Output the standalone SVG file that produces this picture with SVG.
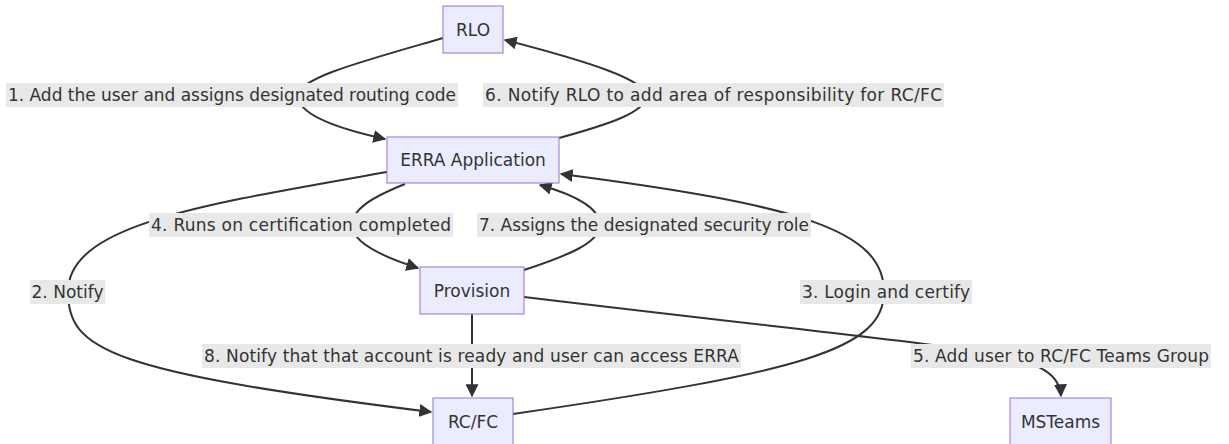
<svg xmlns="http://www.w3.org/2000/svg" width="1229" height="444" viewBox="0 0 1229 444">
  <style>
    .node rect { fill: #ECECFF; stroke: #9370DB; stroke-width: 1; }
    .node text { font-family: "DejaVu Sans", "Liberation Sans", sans-serif; font-size: 17px; fill: #333333; text-anchor: middle; dominant-baseline: central; }
    .edge { fill: none; stroke: #333333; stroke-width: 2; marker-end: url(#arrow); }
    .lbl rect { fill: #e8e8e8; }
    .lbl text { font-family: "DejaVu Sans", "Liberation Sans", sans-serif; font-size: 17px; fill: #333333; text-anchor: middle; dominant-baseline: central; }
  </style>
  <defs>
    <marker id="arrow" viewBox="0 0 10 10" refX="9" refY="5" markerUnits="userSpaceOnUse" markerWidth="13" markerHeight="13" orient="auto">
      <path d="M0,0 L10,5 L0,10 z" fill="#333333"/>
    </marker>
  </defs>

  <rect width="1229" height="444" fill="#ffffff"/>

  <!-- connectors -->
  <g id="connectors">
    <!-- RLO -> ERRA -->
    <path class="edge" d="M443,38 C360,62 298,78 298,96 C298,114 335,128 385,139"/>
    <!-- ERRA -> RLO -->
    <path class="edge" d="M559,138 C610,124 646,112 646,96 C646,80 590,62 505,40"/>
    <!-- ERRA -> RC/FC -->
    <path class="edge" d="M387,172 C200,205 68,225 68,292 C68,350 110,372 431,412"/>
    <!-- RC/FC -> ERRA -->
    <path class="edge" d="M513,414 C800,372 884,350 884,292 C884,230 800,205 561,174"/>
    <!-- ERRA -> Provision -->
    <path class="edge" d="M405,184 C370,198 352,210 352,225 C352,242 380,256 418,268"/>
    <!-- Provision -> ERRA -->
    <path class="edge" d="M524,270 C570,255 600,242 600,225 C600,208 575,195 540,185"/>
    <!-- Provision -> RC/FC -->
    <path class="edge" d="M472,314 L472,396"/>
    <!-- Provision -> MSTeams -->
    <path class="edge" d="M524,297 C800,330 950,345 1000,355 C1040,363 1060,375 1061,396"/>

    <!-- edge labels -->
    <g class="lbl">
      <rect x="6" y="83" width="452" height="24"/>
      <text x="232" y="95" textLength="448">1. Add the user and assigns designated routing code</text>
      <rect x="483" y="83" width="461" height="24"/>
      <text x="713.5" y="95" textLength="457">6. Notify RLO to add area of responsibility for RC/FC</text>
      <rect x="149" y="213" width="304" height="24"/>
      <text x="301" y="225" textLength="300">4. Runs on certification completed</text>
      <rect x="477" y="213" width="334" height="24"/>
      <text x="644" y="225" textLength="330">7. Assigns the designated security role</text>
      <rect x="30" y="280" width="75" height="24"/>
      <text x="67.5" y="292" textLength="72">2. Notify</text>
      <rect x="800" y="280" width="172" height="24"/>
      <text x="886" y="292" textLength="168">3. Login and certify</text>
      <rect x="202" y="344" width="539" height="24"/>
      <text x="471.5" y="356" textLength="535">8. Notify that that account is ready and user can access ERRA</text>
      <rect x="911" y="344" width="300" height="24"/>
      <text x="1061" y="356" textLength="296">5. Add user to RC/FC Teams Group</text>
    </g>
  </g>

  <!-- nodes -->
  <g id="RLO" class="node">
    <rect x="443" y="6" width="60" height="47"/>
    <text x="473" y="29.5">RLO</text>
  </g>
  <g id="ERRA" class="node">
    <rect x="387" y="137" width="172" height="46"/>
    <text x="473" y="160">ERRA Application</text>
  </g>
  <g id="Provision" class="node">
    <rect x="420" y="267" width="104" height="47"/>
    <text x="472" y="290.5">Provision</text>
  </g>
  <g id="RCFC" class="node">
    <rect x="433" y="398" width="80" height="47"/>
    <text x="473" y="421.5">RC/FC</text>
  </g>
  <g id="MSTeams" class="node">
    <rect x="1010" y="398" width="101" height="47"/>
    <text x="1060.5" y="421.5">MSTeams</text>
  </g>
</svg>
